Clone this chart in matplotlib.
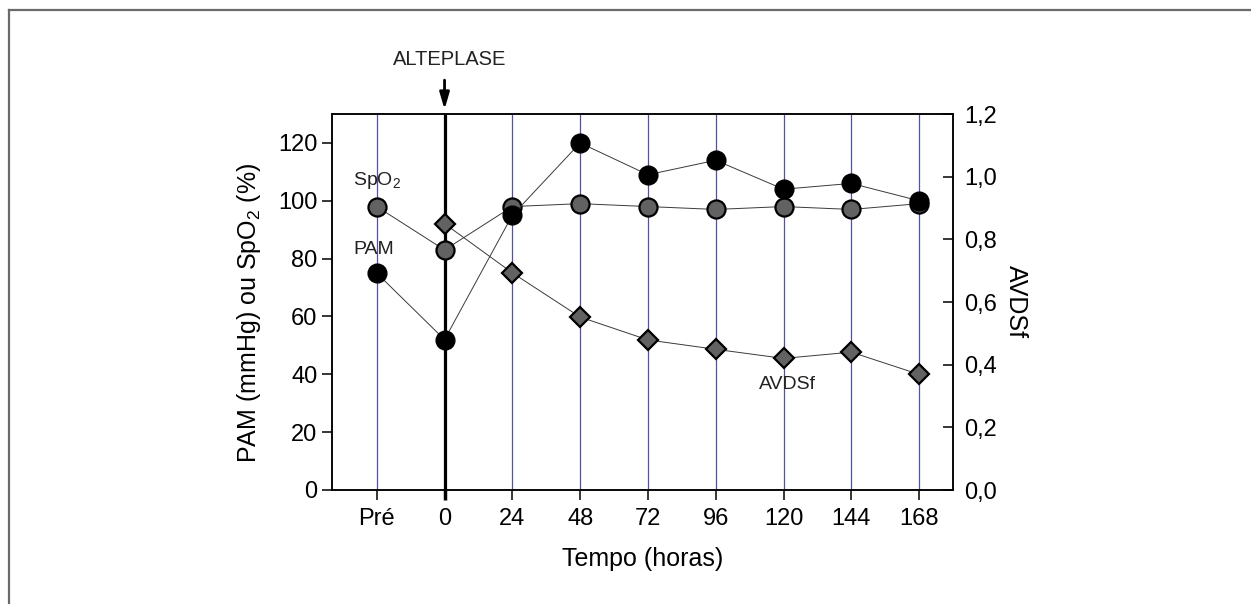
import matplotlib
matplotlib.use("Agg")
import matplotlib.pyplot as plt
from matplotlib.lines import Line2D
from matplotlib.ticker import FuncFormatter

plt.rcParams['font.family'] = ['Liberation Sans', 'DejaVu Sans']
plt.rcParams['mathtext.fontset'] = 'custom'
plt.rcParams['mathtext.rm'] = 'Liberation Sans'
plt.rcParams['mathtext.it'] = 'Liberation Sans'

# data
tempo = ['Pré', '0', '24', '48', '72', '96', '120', '144', '168']
pam = [75, 52, 95, 120, 109, 114, 104, 106, 100]
spo2 = [98, 83, 98, 99, 98, 97, 98, 97, 99]
avdsf = [None, 0.85, 0.693, 0.552, 0.479, 0.449, 0.420, 0.440, 0.369]
left_ticks = [0, 20, 40, 60, 80, 100, 120]
right_ticks = [0.0, 0.2, 0.4, 0.6, 0.8, 1.0, 1.2]

x = list(range(len(tempo)))

fig = plt.figure(figsize=(12.51, 6.04), dpi=100)
ax = fig.add_axes([332 / 1251, 114 / 604, 621 / 1251, 376 / 604])

# vertical grid lines, thick one at time 0 (alteplase)
for i in x:
    if tempo[i] == '0':
        ax.axvline(i, color='black', lw=2.3, zorder=1)
    else:
        ax.axvline(i, color='#5252a2', lw=0.9, zorder=1)

line_kw = dict(color='#3a3a3a', lw=0.7)
ax.plot(x, spo2, marker='o', ms=13, mfc='#626262', mec='black', mew=1.6,
        zorder=4, **line_kw)
ax.plot(x, pam, marker='o', ms=13.5, mfc='black', mec='black', mew=1,
        zorder=5, **line_kw)

ax2 = ax.twinx()
xa = [i for i, v in zip(x, avdsf) if v is not None]
ya = [v for v in avdsf if v is not None]
ax2.plot(xa, ya, marker='D', ms=10, mfc='#626262', mec='black', mew=1.6,
         zorder=4, **line_kw)

ax.set_xlim(-0.66, 8.5)
ax.set_ylim(0, 130)
ax2.set_ylim(0, 1.2)

ax.set_xticks(x)
ax.set_xticklabels(tempo)
ax.set_yticks(left_ticks)
ax2.set_yticks(right_ticks)
ax2.yaxis.set_major_formatter(FuncFormatter(lambda v, p: f"{v:.1f}".replace('.', ',')))

ax.tick_params(axis='both', direction='out', length=7, width=1.1, labelsize=17)
ax.tick_params(axis='x', pad=6)
ax2.tick_params(axis='y', direction='in', length=7, width=1.1, labelsize=17, pad=8)
ax.xaxis.get_major_ticks()[1].tick1line.set_markeredgewidth(2.5)

for a in (ax, ax2):
    for s in a.spines.values():
        s.set_linewidth(1.1)

ax.set_xlabel('Tempo (horas)', fontsize=18, labelpad=12)
ax.set_ylabel('PAM (mmHg) ou SpO$_\\mathregular{2}$ (%)', fontsize=18)
ax.yaxis.set_label_coords(-0.111, 0.471)
ax2.set_ylabel('AVDSf', fontsize=18, rotation=270, labelpad=22)

# series labels
ax.text(0, 107, 'SpO$_\\mathregular{2}$', fontsize=14, color='#222222',
        ha='center', va='center', zorder=6)
ax.text(-0.04, 83, 'PAM', fontsize=14, color='#222222', ha='center', va='center')
ax2.text(6.06, 0.337, 'AVDSf', fontsize=14, color='#222222', ha='center', va='center')

# alteplase arrow
trans = ax.get_xaxis_transform()
ax.annotate('', xy=(1, 1.012), xycoords=trans, xytext=(1, 1.09), textcoords=trans,
            arrowprops=dict(arrowstyle='-|>,head_length=0.55,head_width=0.16',
                            color='black', lw=2, mutation_scale=18,
                            shrinkA=0, shrinkB=0),
            annotation_clip=False)
ax.text(1.07, 1.145, 'ALTEPLASE', transform=trans, fontsize=14.5, color='#222222',
        ha='center', va='center')

# frame around the figure (top and left edges)
fig.add_artist(Line2D([9 / 1251, 9 / 1251], [0, 1 - 10 / 604],
                      transform=fig.transFigure, color='#6a6a6a', lw=1.6))
fig.add_artist(Line2D([9 / 1251, 1], [1 - 10 / 604, 1 - 10 / 604],
                      transform=fig.transFigure, color='#6a6a6a', lw=1.6))

fig.savefig('out.png', dpi=100)
